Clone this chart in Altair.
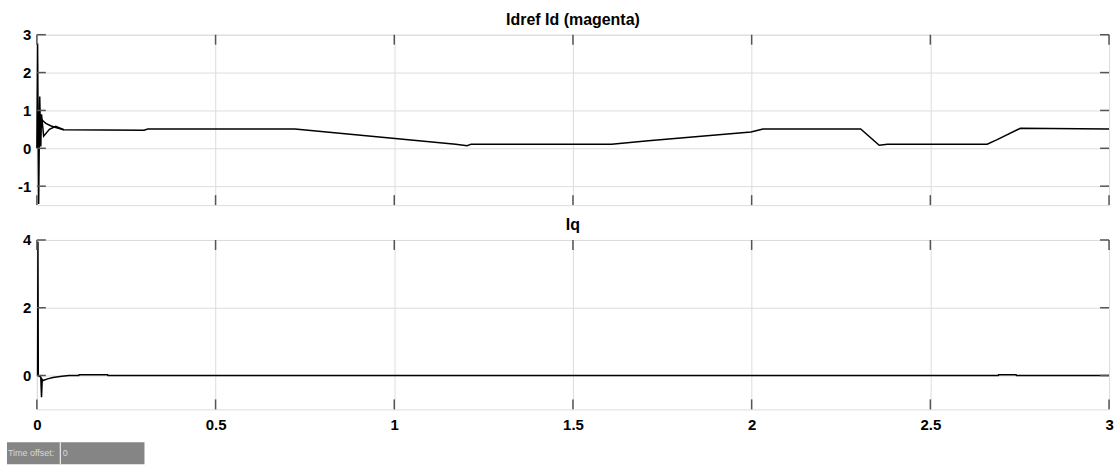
import altair as alt
import pandas as pd

# ---- data ----
id_t = [0, 0.002, 0.005, 0.008, 0.011, 0.013, 0.019, 0.035, 0.053, 0.075, 0.30, 0.31,
        0.722, 1.172, 1.204, 1.215, 1.608, 1.711, 1.998, 2.032, 2.305, 2.357, 2.38,
        2.659, 2.687, 2.752, 3.0]
id_v = [0, 2.77, -1.47, 1.37, 0.05, 0.9, 0.32, 0.5, 0.58, 0.49, 0.48, 0.51,
        0.51, 0.11, 0.07, 0.11, 0.11, 0.2, 0.43, 0.51, 0.51, 0.08, 0.11,
        0.11, 0.23, 0.53, 0.51]

idref_t = [0.013, 0.025, 0.04, 0.053, 0.075]
idref_v = [0.76, 0.66, 0.59, 0.55, 0.49]

iq_t = [0, 0.002, 0.003, 0.004, 0.011, 0.013, 0.015, 0.017, 0.03, 0.045, 0.07, 0.09,
        0.117, 0.118, 0.198, 0.199, 2.69, 2.691, 2.74, 2.741, 3.0]
iq_v = [0, 0, 3.95, 0, -0.05, -0.64, -0.12, -0.15, -0.1, -0.06, -0.02, 0,
        0, 0.02, 0.02, 0, 0, 0.02, 0.02, 0, 0]

x_ticks = [0, 0.5, 1, 1.5, 2, 2.5, 3]
top_yticks = [-1, 0, 1, 2, 3]
bot_yticks = [0, 2, 4]

top_title = "Idref Id (magenta)"
bot_title = "Iq"

W = 1076
H1 = 171
H2 = 170
FONT = "Liberation Sans"

top_df = pd.concat([
    pd.DataFrame({"t": id_t, "v": id_v, "s": "Id"}),
    pd.DataFrame({"t": idref_t, "v": idref_v, "s": "Idref"}),
])
bot_df = pd.DataFrame({"t": iq_t, "v": iq_v, "s": "Iq"})


def panel(df, title, ydom, yticks, show_x_labels, h, extra=None):
    xscale = alt.Scale(domain=[0, 3], nice=False, zero=False)
    yscale = alt.Scale(domain=ydom, nice=False, zero=False)
    x_axis = alt.Axis(values=x_ticks, grid=True, labels=show_x_labels, ticks=False,
                      domain=False, labelExpr="'' + datum.value", labelFontSize=15,
                      labelFont=FONT, labelFontWeight="bold", labelColor="black",
                      labelPadding=8, labelFlush=False, title=None)
    y_axis = alt.Axis(values=yticks, grid=True, ticks=False, domain=False,
                      labelExpr="'' + datum.value", labelFontSize=15, labelFont=FONT,
                      labelFontWeight="bold", labelColor="black", labelPadding=6,
                      labelFlush=False, title=None)
    lines = alt.Chart(df).mark_line(color="black", strokeWidth=1.5).encode(
        x=alt.X("t:Q", scale=xscale, axis=x_axis),
        y=alt.Y("v:Q", scale=yscale, axis=y_axis),
        detail="s:N",
    )
    ydf = pd.DataFrame({"v": yticks})
    xdf = pd.DataFrame({"t": x_ticks})
    tick_color = "#555555"
    left = alt.Chart(ydf).mark_rule(color=tick_color, strokeWidth=1.5).encode(
        y=alt.Y("v:Q", scale=yscale), x=alt.value(0), x2=alt.value(9))
    right = alt.Chart(ydf).mark_rule(color=tick_color, strokeWidth=1.5).encode(
        y=alt.Y("v:Q", scale=yscale), x=alt.value(W - 9), x2=alt.value(W))
    bottom = alt.Chart(xdf).mark_rule(color=tick_color, strokeWidth=1.5).encode(
        x=alt.X("t:Q", scale=xscale), y=alt.value(h - 10), y2=alt.value(h))
    top = alt.Chart(xdf).mark_rule(color=tick_color, strokeWidth=1.5).encode(
        x=alt.X("t:Q", scale=xscale), y=alt.value(0), y2=alt.value(10))
    layers = [lines, left, right, bottom, top]
    if extra:
        layers += extra
    return alt.layer(*layers).properties(
        width=W, height=h,
        title=alt.TitleParams(title, fontSize=16, font=FONT, fontWeight="bold",
                              anchor="middle", offset=0, color="black"),
    )


box_df = pd.DataFrame({"a": [0]})
box = alt.Chart(box_df).mark_rect(color="#858585").encode(
    x=alt.value(-30), x2=alt.value(108), y=alt.value(203), y2=alt.value(225))
sep = alt.Chart(box_df).mark_rule(color="white", strokeWidth=1).encode(
    x=alt.value(23.5), y=alt.value(203), y2=alt.value(225))
lbl = alt.Chart(box_df).mark_text(align="left", baseline="middle", fontSize=9,
                                  font=FONT, color="#d8d8d8").encode(
    x=alt.value(-29), y=alt.value(214), text=alt.value("Time offset:"))
lbl0 = alt.Chart(box_df).mark_text(align="left", baseline="middle", fontSize=9,
                                   font=FONT, color="#d8d8d8").encode(
    x=alt.value(26), y=alt.value(214), text=alt.value("0"))

top_chart = panel(top_df, top_title, [-1.5, 3], top_yticks, False, H1)
bot_chart = panel(bot_df, bot_title, [-1, 4], bot_yticks, True, H2,
                  extra=[box, sep, lbl, lbl0])

chart = alt.vconcat(top_chart, bot_chart, spacing=8).properties(
    padding={"left": 6, "top": 10, "right": 5, "bottom": 0}
).configure_view(stroke="black", strokeWidth=1.5).configure_axis(
    gridColor="#a8a8a8", gridDash=[1, 1], gridWidth=1, gridOpacity=1
).configure(background="white")

chart.save("out.html", embed_options={"renderer": "svg", "actions": False})
